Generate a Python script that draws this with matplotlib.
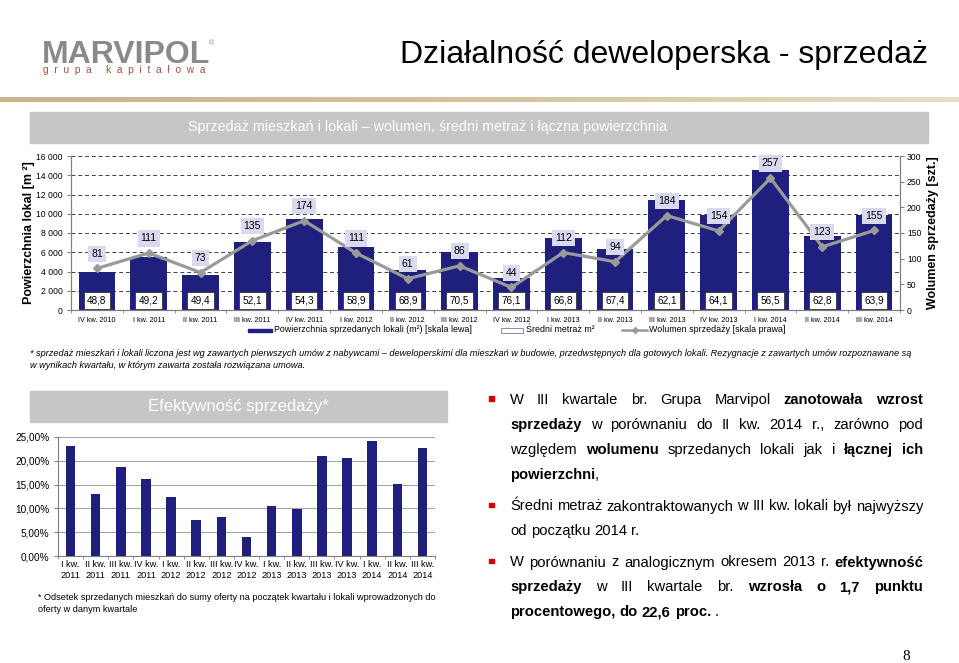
import numpy as np
import matplotlib.pyplot as plt
from matplotlib.patches import Rectangle
from matplotlib.lines import Line2D
from matplotlib.colors import LinearSegmentedColormap
from matplotlib.ticker import FuncFormatter, MultipleLocator, FixedLocator

plt.rcParams['font.family'] = ['Liberation Sans', 'DejaVu Sans']

W, H = 959, 663

# dane - wykres gorny
quarters = ['IV kw. 2010', 'I kw. 2011', 'II kw. 2011', 'III kw. 2011', 'IV kw. 2011',
            'I kw. 2012', 'II kw. 2012', 'III kw. 2012', 'IV kw. 2012', 'I kw. 2013',
            'II kw. 2013', 'III kw. 2013', 'IV kw. 2013', 'I kw. 2014', 'II kw. 2014',
            'III kw. 2014']
area = [3950, 5460, 3610, 7030, 9450, 6540, 4200, 6060, 3350, 7480, 6340, 11430,
        9870, 14520, 7720, 9900]
avg_area = [48.8, 49.2, 49.4, 52.1, 54.3, 58.9, 68.9, 70.5, 76.1, 66.8, 67.4, 62.1,
            64.1, 56.5, 62.8, 63.9]
volume = [81, 111, 73, 135, 174, 111, 61, 86, 44, 112, 94, 184, 154, 257, 123, 155]

# dane - efektywnosc
eff_quarters = ['I kw.\n2011', 'II kw.\n2011', 'III kw.\n2011', 'IV kw.\n2011',
                'I kw.\n2012', 'II kw.\n2012', 'III kw.\n2012', 'IV kw.\n2012',
                'I kw.\n2013', 'II kw.\n2013', 'III kw.\n2013', 'IV kw.\n2013',
                'I kw.\n2014', 'II kw.\n2014', 'III kw.\n2014']
efficiency = [23.2, 13.0, 18.8, 16.2, 12.3, 7.6, 8.2, 3.9, 10.5, 9.9, 21.0, 20.6,
              24.2, 15.2, 22.6]

NAVY = '#1f1f7d'
GRAY_BAND = '#c6c6c6'
LINE_GRAY = '#9a9a9a'


def fx(x):
    return x / W


def fy(y):
    return 1 - y / H


fig = plt.figure(figsize=(W / 100, H / 100), dpi=100)

# --- naglowek ---
fig.text(fx(42), fy(63), 'MARVIPOL', fontsize=23, fontweight='bold', color='#8a8a8a',
         va='baseline')
fig.text(fx(209), fy(45), '®', fontsize=5, color='#8a8a8a', va='baseline')
fig.text(fx(43), fy(73), 'g  r  u  p  a     k  a  p  i  t  a  ł  o  w  a', fontsize=7.3,
         color='#a5503f', va='baseline')
fig.text(fx(400), fy(63), 'Działalność deweloperska - sprzedaż', fontsize=23,
         color='black', va='baseline')

# zlota linia
gax = fig.add_axes([0, fy(102), 1, 5 / H])
grad = np.linspace(0, 1, 256).reshape(1, -1)
gold = LinearSegmentedColormap.from_list('g', ['#c8b489', '#d4c39c', '#e8dec4'])
gax.imshow(grad, aspect='auto', cmap=gold)
gax.axis('off')

# pasek tytulu wykresu
fig.patches.append(Rectangle((fx(30), fy(143)), fx(928 - 30), 31 / H,
                             transform=fig.transFigure, color=GRAY_BAND))
fig.text(fx(428), fy(127), 'Sprzedaż mieszkań i lokali – wolumen, średni metraż i łączna powierzchnia',
         fontsize=10.3, color='white', ha='center', va='center')

# --- wykres gorny ---
ax = fig.add_axes([fx(71), fy(310), (900 - 71) / W, (310 - 156) / H])
x = np.arange(len(quarters))
ax.bar(x, area, width=0.71, color=NAVY, zorder=2)
ax.set_xlim(-0.5, len(quarters) - 0.5)
ax.set_ylim(0, 16000)
ax.yaxis.set_major_locator(MultipleLocator(2000))
ax.yaxis.set_major_formatter(FuncFormatter(lambda v, p: f'{int(v):,}'.replace(',', ' ')))
ax.yaxis.grid(True, linestyle=(0, (4, 3)), color='#404040', lw=0.7)
ax.set_axisbelow(True)
ax.set_xticks(x)
ax.set_xticklabels(quarters, fontsize=5.2)
ax.xaxis.set_minor_locator(FixedLocator(np.arange(-0.5, len(quarters), 1)))
ax.tick_params(axis='x', which='major', length=0, pad=5)
ax.tick_params(axis='x', which='minor', length=2.5, color='#808080')
ax.tick_params(axis='y', labelsize=6.2, length=3, color='#808080', pad=3)
ax.spines['top'].set_visible(False)
for s in ['left', 'right', 'bottom']:
    ax.spines[s].set_color('#808080')
ax.set_ylabel('Powierzchnia lokal [m ²]', fontsize=9, fontweight='bold', labelpad=1)
for xi, a in zip(x, avg_area):
    ax.text(xi, 1000, f'{a:.1f}'.replace('.', ','), fontsize=7.2, ha='center', va='center',
            zorder=3, bbox=dict(boxstyle='square,pad=0.35', fc='white', ec='#333333', lw=0.6))

ax2 = ax.twinx()
ax2.plot(x, volume, color=LINE_GRAY, lw=2.3, marker='D', ms=4.5, zorder=4)
ax2.set_ylim(0, 300)
ax2.yaxis.set_major_locator(MultipleLocator(50))
ax2.tick_params(axis='y', labelsize=6.2, length=3, color='#808080', pad=2)
ax2.spines['top'].set_visible(False)
for s in ['left', 'right', 'bottom']:
    ax2.spines[s].set_color('#808080')
ax2.set_ylabel('Wolumen sprzedaży [szt.]', fontsize=9, fontweight='bold', labelpad=4)
for xi, v in zip(x, volume):
    ax2.annotate(str(v), (xi, v), xytext=(0, 10.5), textcoords='offset points',
                 fontsize=7.5, ha='center', va='center', zorder=5,
                 bbox=dict(boxstyle='square,pad=0.3', fc='#d9d9f0', ec='none'))

# legenda (recznie)
LY = 330
fig.patches.append(Rectangle((fx(248), fy(LY + 2)), fx(24), 3.5 / H,
                             transform=fig.transFigure, color=NAVY))
fig.text(fx(274), fy(LY), 'Powierzchnia sprzedanych lokali (m²) [skala lewa]',
         fontsize=6.4, va='center')
fig.patches.append(Rectangle((fx(501), fy(LY + 2.5)), fx(22), 5 / H, transform=fig.transFigure,
                             fc='white', ec='#8c8cb4', lw=0.7))
fig.text(fx(526), fy(LY), 'Średni metraż m²', fontsize=6.4, va='center')
fig.lines.append(Line2D([fx(622), fx(647)], [fy(LY), fy(LY)], transform=fig.transFigure,
                        color=LINE_GRAY, lw=1.8))
fig.lines.append(Line2D([fx(634.5)], [fy(LY)], transform=fig.transFigure,
                        color=LINE_GRAY, marker='D', ms=3, lw=0))
fig.text(fx(649), fy(LY), 'Wolumen sprzedaży [skala prawa]', fontsize=6.4, va='center')

fig.text(fx(30), fy(354), '* sprzedaż mieszkań i lokali liczona jest wg zawartych pierwszych umów z nabywcami – deweloperskimi dla mieszkań w budowie, '
         'przedwstępnych dla gotowych lokali. Rezygnacje z zawartych umów rozpoznawane są',
         fontsize=6.6, style='italic', va='center')
fig.text(fx(30), fy(366), 'w wynikach kwartału, w którym zawarta została rozwiązana umowa.',
         fontsize=6.6, style='italic', va='center')

# --- efektywnosc ---
fig.patches.append(Rectangle((fx(30), fy(422)), fx(417), 31 / H,
                             transform=fig.transFigure, color=GRAY_BAND))
fig.text(fx(238.5), fy(406), 'Efektywność sprzedaży*', fontsize=12, color='white',
         ha='center', va='center')

ax3 = fig.add_axes([fx(58), fy(556), 377 / W, (556 - 437) / H])
x3 = np.arange(len(eff_quarters))
ax3.bar(x3, efficiency, width=0.38, color=NAVY, zorder=2)
ax3.set_xlim(-0.5, len(eff_quarters) - 0.5)
ax3.set_ylim(0, 25)
ax3.yaxis.set_major_locator(MultipleLocator(5))
ax3.yaxis.set_major_formatter(FuncFormatter(lambda v, p: f'{v:.2f}%'.replace('.', ',')))
ax3.yaxis.grid(True, color='#a6a6a6', lw=0.8)
ax3.set_axisbelow(True)
ax3.set_xticks(x3)
ax3.set_xticklabels(eff_quarters, fontsize=6.6, linespacing=1.25)
ax3.xaxis.set_minor_locator(FixedLocator(np.arange(-0.5, len(eff_quarters), 1)))
ax3.tick_params(axis='x', which='major', length=0, pad=3)
ax3.tick_params(axis='x', which='minor', length=2.5, color='#808080')
ax3.tick_params(axis='y', labelsize=7.2, length=3, color='#808080', pad=3)
ax3.spines['top'].set_visible(False)
ax3.spines['right'].set_visible(False)
ax3.spines['left'].set_color('#808080')
ax3.spines['bottom'].set_color('#808080')

fig.text(fx(38), fy(597), '* Odsetek sprzedanych mieszkań do sumy oferty na początek kwartału i lokali wprowadzonych do',
         fontsize=6.6, va='center')
fig.text(fx(38), fy(609), 'oferty w danym kwartale', fontsize=6.6, va='center')

# --- tekst po prawej (wyjustowany) ---
FS = 10.6
renderer = fig.canvas.get_renderer()


def twidth(s, bold):
    t = fig.text(0, 0, s, fontsize=FS, fontweight='bold' if bold else 'normal')
    w = t.get_window_extent(renderer).width
    t.remove()
    return w


space_w = twidth('a a', False) - twidth('aa', False)

paragraphs = [
    ([('W III kwartale br. Grupa Marvipol *zanotowała* *wzrost*', True),
      ('*sprzedaży* w porównaniu do II kw. 2014 r., zarówno pod', True),
      ('względem *wolumenu* sprzedanych lokali jak i *łącznej* *ich*', True),
      ('*powierzchni*,', False)], 404),
    ([('Średni metraż zakontraktowanych w III kw. lokali był najwyższy', True),
      ('od początku 2014 r.', False)], 510.5),
    ([('W porównaniu z analogicznym okresem 2013 r. *efektywność*', True),
      ('*sprzedaży* w III kwartale br. *wzrosła* *o* *1,7* *punktu*', True),
      ('*procentowego,* *do* *22,6* *proc.* .', False)], 566.5),
]
X0, X1, LH = 510, 923, 24.9

for lines, base in paragraphs:
    fig.patches.append(Rectangle((fx(489), fy(base - 3.5)), fx(4.5), 4.5 / H,
                                 transform=fig.transFigure, color='#d40000'))
    for li, (line, justify) in enumerate(lines):
        y = base + li * LH
        words = []
        for w in line.split(' '):
            parts = w.split('*')
            segs = [(p, i % 2 == 1) for i, p in enumerate(parts) if p]
            words.append(segs)
        widths = [sum(twidth(s, b) for s, b in segs) for segs in words]
        if justify and len(words) > 1:
            gap = (X1 - X0 - sum(widths)) / (len(words) - 1)
        else:
            gap = space_w
        cx = X0
        for segs, wd in zip(words, widths):
            sx = cx
            for s, b in segs:
                fig.text(fx(sx), fy(y), s, fontsize=FS, va='baseline',
                         fontweight='bold' if b else 'normal')
                sx += twidth(s, b)
            cx += wd + gap

fig.text(fx(906), fy(660), '8', fontsize=11, family=['Liberation Serif', 'DejaVu Serif'],
         va='baseline', ha='center')

fig.savefig('out.png', dpi=100)
